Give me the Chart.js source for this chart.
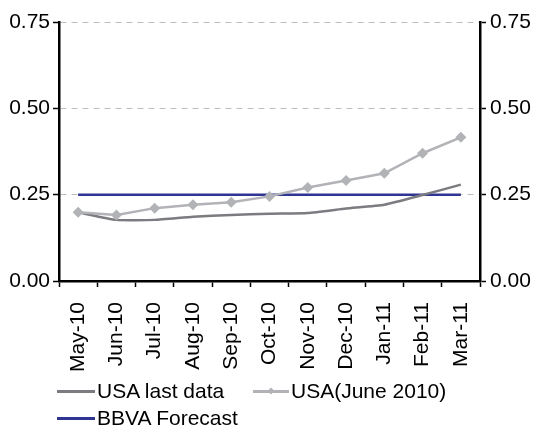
<!DOCTYPE html>
<html>
<head>
<meta charset="utf-8">
<script src="https://cdn.jsdelivr.net/npm/chart.js@4/dist/chart.umd.min.js"></script>
<style>
  html, body { margin: 0; padding: 0; background: #fff; }
  #wrap { position: relative; width: 534px; height: 425px; overflow: hidden; }
  #chart { display: block; }
  .legend-item {
    position: absolute; display: flex; align-items: center; height: 24px;
    font-family: "Liberation Sans", Arial, sans-serif; font-size: 21px; color: #000;
    white-space: nowrap;
  }
  .swatch { position: relative; height: 3px; margin-right: 2px; }
  .swatch .dot {
    position: absolute; left: 50%; top: 50%; width: 5px; height: 5px;
    transform: translate(-50%, -50%) rotate(45deg);
  }
</style>
</head>
<body>
<div id="wrap">
  <canvas id="chart" width="534" height="425"></canvas>
</div>
<script>
// Monthly categories shown on the x axis
const months = ['May-10', 'Jun-10', 'Jul-10', 'Aug-10', 'Sep-10', 'Oct-10',
                'Nov-10', 'Dec-10', 'Jan-11', 'Feb-11', 'Mar-11'];

// Series values (%)
const usaLastData  = [0.199, 0.177, 0.177, 0.186, 0.191, 0.195, 0.197, 0.210, 0.221, 0.249, 0.279];
const usaJune2010  = [0.199, 0.191, 0.211, 0.221, 0.228, 0.245, 0.271, 0.291, 0.312, 0.370, 0.416];
const bbvaForecast = [0.25, 0.25, 0.25, 0.25, 0.25, 0.25, 0.25, 0.25, 0.25, 0.25, 0.25];

// Value axis ticks (shown on both sides)
const yTicks = [0.00, 0.25, 0.50, 0.75];

const FONT = { family: '"Liberation Sans", Arial, sans-serif', size: 21 };
const COLORS = { last: '#7b7b80', june: '#b1b3b6', bbva: '#2e3592' };

const datasets = [
  { label: 'USA last data', data: usaLastData, borderColor: COLORS.last, backgroundColor: COLORS.last,
    borderWidth: 2.5, pointRadius: 0, tension: 0.15, order: 1 },
  { label: 'USA(June 2010)', data: usaJune2010, borderColor: COLORS.june, backgroundColor: COLORS.june,
    borderWidth: 2.5, pointStyle: 'rectRot', pointRadius: 5.5, pointBorderWidth: 0, order: 0 },
  { label: 'BBVA Forecast', data: bbvaForecast, borderColor: COLORS.bbva, backgroundColor: COLORS.bbva,
    borderWidth: 2.5, pointRadius: 0, order: 2 }
];

function valueAxis(position, onArea, width, pad) {
  return {
    type: 'linear', position, min: 0, max: 0.75,
    afterBuildTicks: s => { s.ticks = yTicks.map(v => ({ value: v })); },
    afterFit: s => { s.width = width; },
    ticks: { color: '#000', font: FONT, padding: pad, callback: v => Number(v).toFixed(2) },
    grid: { drawOnChartArea: onArea, color: '#bdbdbd', lineWidth: 1,
            tickColor: '#000', tickLength: 6, tickWidth: 1.5 },
    border: { color: '#000', width: 2.5, dash: [6, 5] }
  };
}

new Chart(document.getElementById('chart'), {
  type: 'line',
  data: { labels: months, datasets },
  options: {
    responsive: false,
    animation: false,
    layout: { padding: { left: 9, right: 3, top: 22, bottom: 50 } },
    plugins: { legend: { display: false }, tooltip: { enabled: false } },
    scales: {
      x: {
        type: 'category', offset: true,
        afterFit: s => { s.height = 94; },
        ticks: { color: '#000', font: FONT, minRotation: 90, maxRotation: 90, autoSkip: false, padding: 15 },
        grid: { offset: true, drawOnChartArea: false, tickColor: '#000', tickLength: 6, tickWidth: 1.5 },
        border: { color: '#000', width: 2.5 }
      },
      y: valueAxis('left', true, 50, 3),
      y2: valueAxis('right', false, 51, 4)
    }
  }
});

// Legend built from the dataset labels and colours
const legendSpots = [
  { left: 57, top: 379, swatch: 38 },
  { left: 253, top: 379, swatch: 36 },
  { left: 57, top: 406, swatch: 38 }
];
const wrap = document.getElementById('wrap');
datasets.forEach((ds, i) => {
  const spot = legendSpots[i];
  const item = document.createElement('div');
  item.className = 'legend-item';
  item.style.left = spot.left + 'px';
  item.style.top = spot.top + 'px';
  const sw = document.createElement('span');
  sw.className = 'swatch';
  sw.style.width = spot.swatch + 'px';
  sw.style.background = ds.borderColor;
  if (ds.pointStyle === 'rectRot') {
    const dot = document.createElement('span');
    dot.className = 'dot';
    dot.style.background = ds.borderColor;
    sw.appendChild(dot);
  }
  const txt = document.createElement('span');
  txt.textContent = ds.label;
  item.appendChild(sw);
  item.appendChild(txt);
  wrap.appendChild(item);
});
</script>
</body>
</html>
